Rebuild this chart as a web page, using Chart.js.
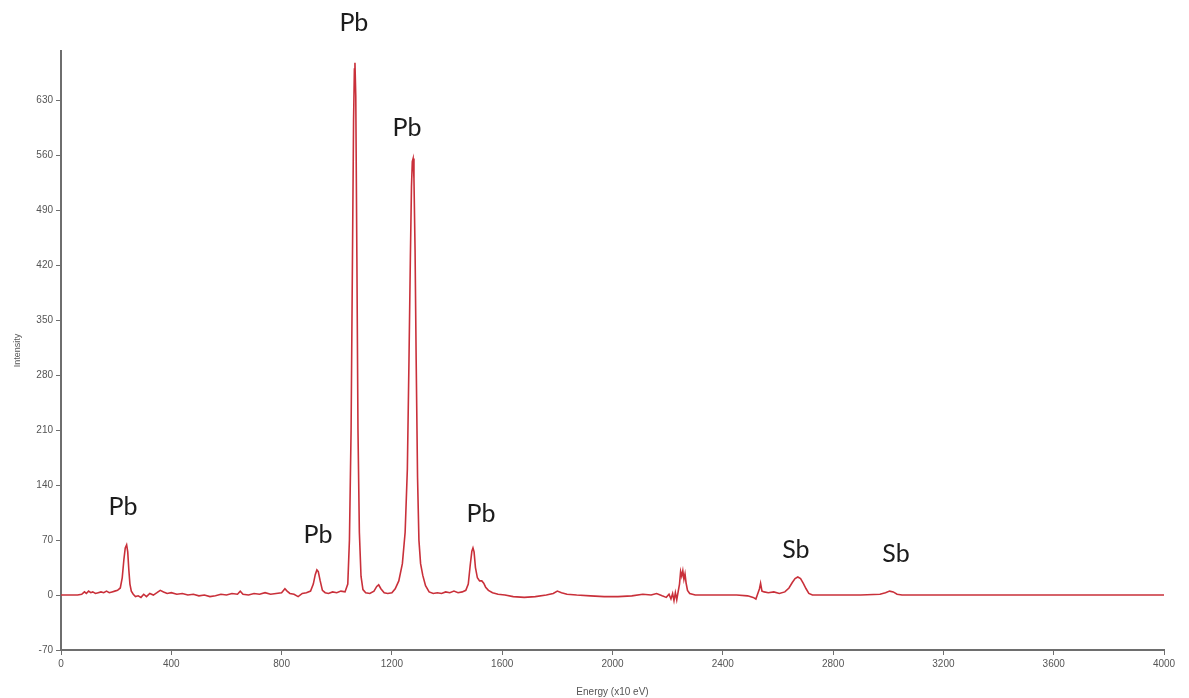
<!DOCTYPE html>
<html>
<head>
<meta charset="utf-8">
<script src="https://cdn.jsdelivr.net/npm/chart.js@4"></script>
<style>
  html, body { margin: 0; padding: 0; background: #fff; }
  #wrap { width: 1189px; height: 698px; }
</style>
</head>
<body>
<div id="wrap"><canvas id="spectrum" width="1189" height="698"></canvas></div>
<script>
// spectrum (energy in x10 eV, intensity)
const energy = [
  0, 60, 75, 85, 92, 100, 108, 115, 125, 135, 145, 155, 165, 175, 185, 195, 205, 215, 222, 228, 233, 238, 242, 246, 250, 255, 262, 270,
  280, 290, 300, 310, 322, 335, 348, 360, 372, 385, 400, 420, 440, 460, 480, 500, 520, 540, 560, 580, 600, 620, 640, 650, 660, 680,
  700, 720, 740, 760, 780, 800, 812, 820, 830, 845, 860, 875, 890, 905, 915, 922, 928, 933, 940, 948, 958, 970, 985, 1000, 1015, 1030,
  1040, 1046, 1052, 1057, 1061, 1064, 1066, 1069, 1073, 1077, 1082, 1088, 1095, 1105, 1120, 1135, 1145, 1152, 1160, 1172, 1185, 1200,
  1212, 1225, 1238, 1248, 1256, 1262, 1267, 1271, 1274, 1277, 1280, 1284, 1288, 1293, 1298, 1304, 1312, 1322, 1335, 1350, 1365, 1380,
  1395, 1410, 1425, 1440, 1455, 1468, 1477, 1484, 1490, 1494, 1498, 1503, 1510, 1518, 1526, 1533, 1540, 1550, 1565, 1585, 1610, 1640,
  1680, 1720, 1760, 1785, 1800, 1815, 1835, 1870, 1920, 1970, 2020, 2070, 2110, 2140, 2160, 2180, 2195, 2205, 2212, 2218, 2223, 2228,
  2233, 2238, 2243, 2247, 2251, 2255, 2259, 2263, 2267, 2272, 2280, 2300, 2350, 2400, 2450, 2490, 2510, 2520, 2527, 2533, 2537, 2542,
  2550, 2565, 2585, 2605, 2625, 2640, 2652, 2662, 2672, 2682, 2692, 2702, 2712, 2725, 2750, 2800, 2900, 2970, 2990, 3005, 3018, 3032,
  3050, 3080, 3200, 3400, 3600, 3800, 4000
];
const intensity = [
  0, 0, 1, 4, 2, 5, 3, 4, 2, 3, 4, 3, 5, 3, 4, 5, 6, 9, 22, 45, 60, 64, 55, 32, 14, 5, 1, -2,
  -1, -3, 1, -2, 2, 0, 3, 6, 4, 2, 3, 1, 2, 0, 1, -1, 0, -2, -1, 1, 0, 2, 1, 5, 1, 0,
  2, 1, 3, 1, 2, 3, 8, 5, 2, 1, -2, 2, 3, 5, 14, 26, 32, 30, 18, 6, 3, 2, 4, 3, 5, 4,
  14, 70, 210, 430, 605, 670, 678, 635, 430, 210, 80, 24, 7, 3, 2, 5, 11, 13, 8, 3, 2, 3,
  8, 18, 40, 80, 160, 300, 430, 520, 552, 556, 530, 440, 300, 150, 70, 40, 25, 12, 4, 2, 3, 2,
  4, 3, 5, 3, 4, 6, 14, 38, 56, 60, 55, 35, 22, 18, 18, 15, 10, 6, 3, 1, 0, -2,
  -3, -2, 0, 2, 5, 3, 1, 0, -1, -2, -2, -1, 1, 0, 2, -1, -3, 1, -5, 2, -7, 3,
  -6, 4, 14, 30, 24, 31, 20, 27, 15, 6, 2, 0, 0, 0, 0, -1, -3, -5, 2, 8, 15, 5,
  4, 3, 4, 2, 4, 9, 16, 21, 23, 21, 15, 8, 2, 0, 0, 0, 0, 1, 3, 5, 4, 1,
  0, 0, 0, 0, 0, 0, 0
];

const yTicks = [-70, 0, 70, 140, 210, 280, 350, 420, 490, 560, 630];
const xTicks = [0, 400, 800, 1200, 1600, 2000, 2400, 2800, 3200, 3600, 4000];

// peak annotations: element, energy, intensity where the label sits
const peakNames = ["Pb", "Pb", "Pb", "Pb", "Pb", "Sb", "Sb"];
const peakEnergy = [1062, 1255, 225, 932, 1523, 2665, 3028];
const peakLevel = [729, 595, 112, 76, 103, 58, 52];

const points = energy.map((e, i) => ({ x: e, y: intensity[i] }));

const peakLabels = {
  id: "peakLabels",
  afterDatasetsDraw(chart) {
    const { ctx, scales } = chart;
    ctx.save();
    ctx.font = "25px Lato, 'Open Sans', sans-serif";
    ctx.fillStyle = "#1c1c1c";
    ctx.textAlign = "center";
    ctx.textBaseline = "middle";
    peakNames.forEach((name, i) => {
      ctx.fillText(name, scales.x.getPixelForValue(peakEnergy[i]), scales.y.getPixelForValue(peakLevel[i]));
    });
    ctx.restore();
  }
};

const tickFont = { family: "'Liberation Sans', Arial, sans-serif", size: 10 };

new Chart(document.getElementById("spectrum"), {
  type: "line",
  data: {
    datasets: [{
      data: points,
      borderColor: "#c9303a",
      borderWidth: 1.6,
      pointRadius: 0,
      tension: 0,
      fill: false
    }]
  },
  options: {
    responsive: false,
    animation: false,
    layout: { padding: { top: 51, right: 25, left: 0, bottom: 0 } },
    plugins: { legend: { display: false }, tooltip: { enabled: false } },
    scales: {
      x: {
        type: "linear",
        min: 0,
        max: 4000,
        afterBuildTicks: s => { s.ticks = xTicks.map(v => ({ value: v })); },
        afterFit: s => { s.height = 48; },
        border: { color: "#6e6e6e", width: 2 },
        grid: { drawOnChartArea: false, tickLength: 5, color: "#6e6e6e", tickWidth: 1 },
        ticks: { color: "#555", font: tickFont, padding: 3, maxRotation: 0, callback: v => String(v) },
        title: { display: true, text: "Energy (x10 eV)", color: "#555", font: { family: "'Liberation Sans', Arial, sans-serif", size: 10 }, padding: { top: 0, bottom: 0 } }
      },
      y: {
        type: "linear",
        min: -70,
        max: 693,
        afterBuildTicks: s => { s.ticks = yTicks.map(v => ({ value: v })); },
        afterFit: s => { s.width = 61; },
        border: { color: "#6e6e6e", width: 2 },
        grid: { drawOnChartArea: false, tickLength: 5, color: "#6e6e6e", tickWidth: 1 },
        ticks: { color: "#555", font: tickFont, padding: 3, callback: v => String(v) },
        title: { display: true, text: "Intensity", color: "#555", font: { family: "'Liberation Sans', Arial, sans-serif", size: 9 }, padding: { top: 12, bottom: 0 } }
      }
    }
  },
  plugins: [peakLabels]
});
</script>
</body>
</html>
